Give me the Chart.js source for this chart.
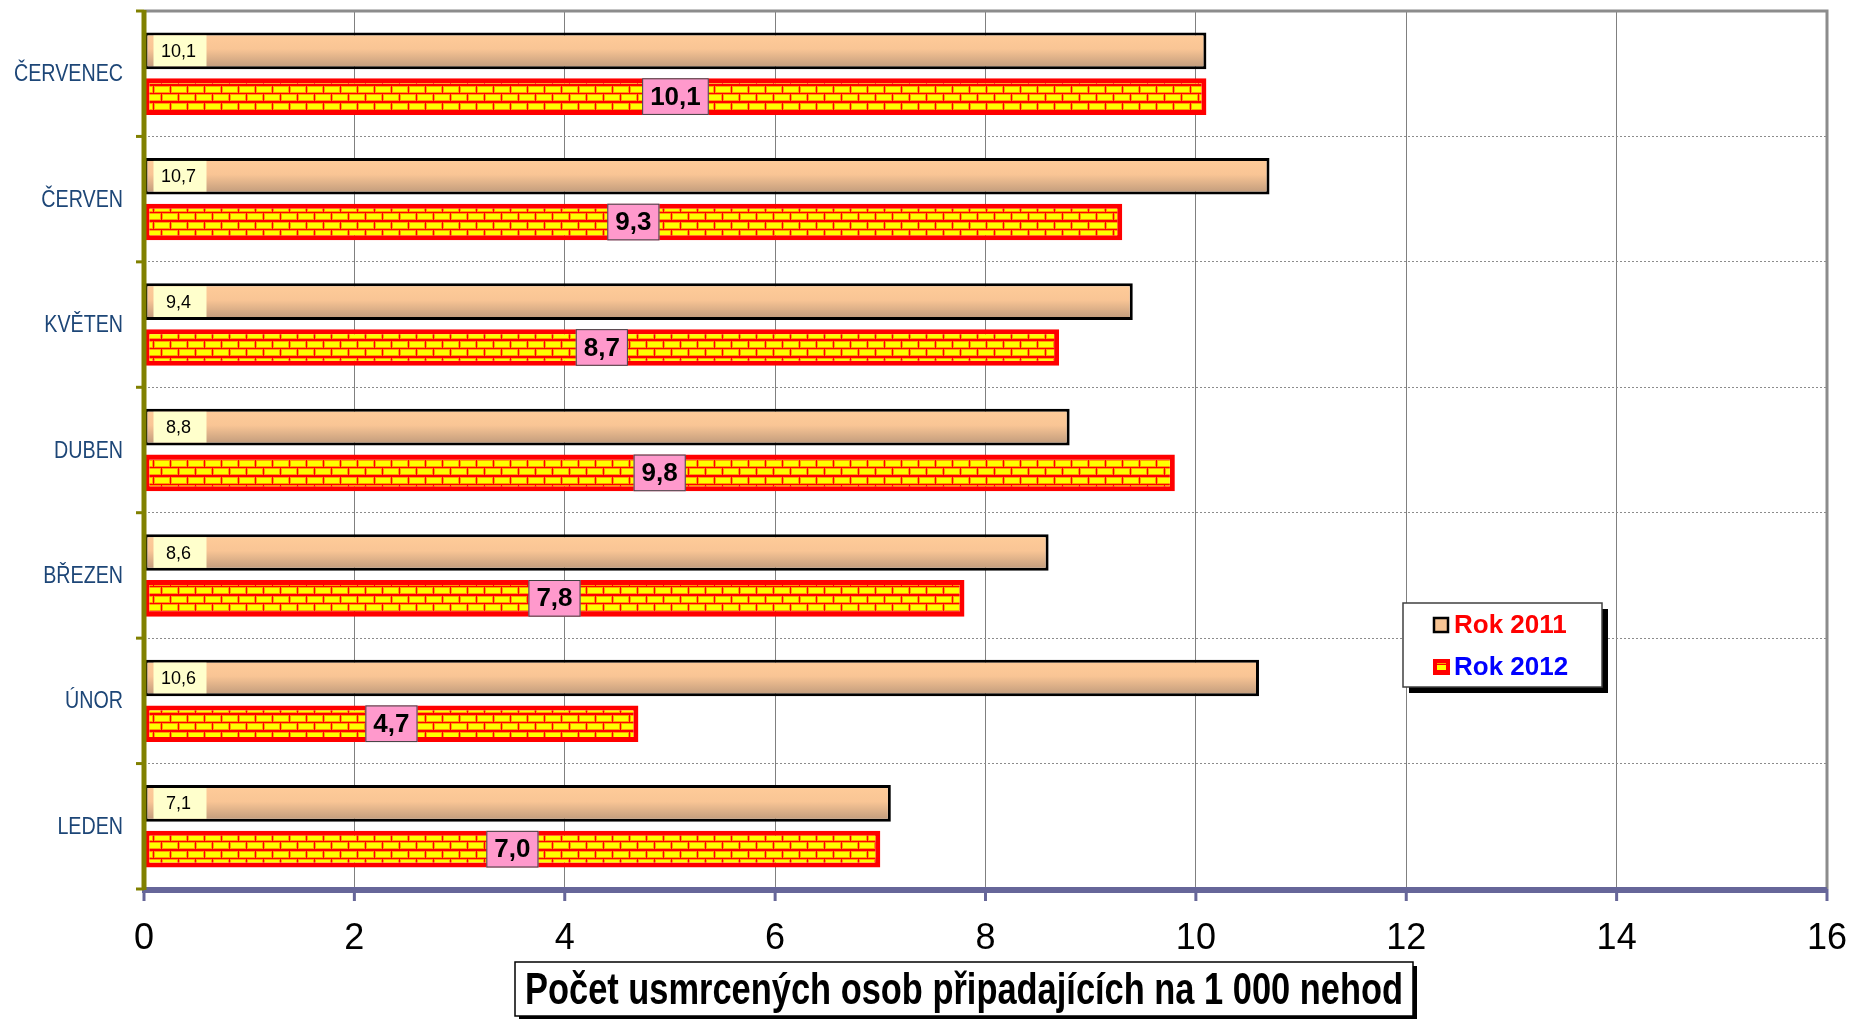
<!DOCTYPE html>
<html>
<head>
<meta charset="utf-8">
<script src="https://cdn.jsdelivr.net/npm/chart.js@4.4.1/dist/chart.umd.min.js"></script>
<style>
html, body { margin: 0; padding: 0; background: #fff; }
#wrap { width: 1851px; height: 1019px; }
</style>
</head>
<body>
<div id="wrap"><canvas id="chart" width="1851" height="1019"></canvas></div>
<script>
// data, top row first
const months = ['ČERVENEC', 'ČERVEN', 'KVĚTEN', 'DUBEN', 'BŘEZEN', 'ÚNOR', 'LEDEN'];
const values2011 = [10.1, 10.7, 9.4, 8.8, 8.6, 10.6, 7.1];
const values2012 = [10.1, 9.3, 8.7, 9.8, 7.8, 4.7, 7.0];
const seriesNames = ['Rok 2011', 'Rok 2012'];
const xTicks = [0, 2, 4, 6, 8, 10, 12, 14, 16];
const axisTitle = 'Počet usmrcených osob připadajících na 1 000 nehod';

const CAT_PCT = 0.73;
const BAR_PCT = 0.8;

function fmt(v) {
    return v.toFixed(1).replace('.', ',');
}

// red mortar, yellow bricks
function brickPattern() {
    const c = document.createElement('canvas');
    c.width = 17;
    c.height = 17;
    const g = c.getContext('2d');
    g.fillStyle = '#ff0000';
    g.fillRect(0, 0, 17, 17);
    const bricks = [[1, 1], [-8, 9], [9, 9]];
    bricks.forEach(([bx, by]) => {
        g.fillStyle = '#ffa000';
        g.fillRect(bx, by, 16, 7);
        g.fillStyle = '#ffff00';
        g.fillRect(bx + 1, by + 1, 14, 5);
    });
    return g.createPattern(c, 'repeat');
}

const ctx = document.getElementById('chart').getContext('2d');
const bricks = brickPattern();

function tanFill(context) {
    const chart = context.chart;
    const y = chart.scales.y;
    if (!y || context.dataIndex === undefined) return '#f5c594';
    const p0 = y.getPixelForValue(0);
    const p1 = y.getPixelForValue(1);
    if (!isFinite(p0) || !isFinite(p1) || p0 === p1) return '#f5c594';
    const band = Math.abs(p1 - p0);
    const slot = band * CAT_PCT / 2;
    const center = y.getPixelForValue(context.dataIndex) - slot / 2;
    const half = slot * BAR_PCT / 2;
    if (!isFinite(center)) return '#f5c594';
    const grad = chart.ctx.createLinearGradient(0, center - half, 0, center + half);
    grad.addColorStop(0, '#ffcc99');
    grad.addColorStop(0.45, '#f9c595');
    grad.addColorStop(1, '#bc987a');
    return grad;
}

const decorPlugin = {
    id: 'decor',
    afterDatasetsDraw(chart) {
        const c = chart.ctx;
        const a = chart.chartArea;
        const x = chart.scales.x;
        const y = chart.scales.y;
        c.save();
        // plot border top / right
        c.strokeStyle = '#8c8c8c';
        c.lineWidth = 3;
        c.beginPath();
        c.moveTo(a.left, a.top);
        c.lineTo(a.right, a.top);
        c.lineTo(a.right, a.bottom);
        c.stroke();
        // value axis
        c.strokeStyle = '#666699';
        c.lineWidth = 6;
        c.beginPath();
        c.moveTo(a.left - 2, a.bottom + 1);
        c.lineTo(a.right, a.bottom + 1);
        c.stroke();
        c.lineWidth = 3;
        x.ticks.forEach(t => {
            const px = x.getPixelForValue(t.value);
            c.beginPath();
            c.moveTo(px, a.bottom);
            c.lineTo(px, a.bottom + 12);
            c.stroke();
        });
        // category axis
        c.strokeStyle = '#808000';
        c.lineWidth = 5;
        c.beginPath();
        c.moveTo(a.left, a.top - 1);
        c.lineTo(a.left, a.bottom + 1);
        c.stroke();
        c.lineWidth = 3;
        for (let i = 0; i <= months.length; i++) {
            const py = y.getPixelForValue(i - 0.5);
            c.beginPath();
            c.moveTo(a.left - 8, py);
            c.lineTo(a.left, py);
            c.stroke();
        }
        // category names, slightly condensed like the original
        c.font = '24px "Liberation Sans", Arial, sans-serif';
        c.fillStyle = '#1d4677';
        c.textAlign = 'right';
        c.textBaseline = 'middle';
        y.getLabels().forEach((lab, i) => {
            c.save();
            c.translate(a.left - 21, y.getPixelForValue(i) + 1);
            c.scale(0.82, 1);
            c.fillText(lab, 0, 0);
            c.restore();
        });

        // labels 2011: small pale box at bar start
        const m0 = chart.getDatasetMeta(0);
        m0.data.forEach((el, i) => {
            const p = el.getProps(['x', 'y', 'base', 'height'], true);
            const h = p.height - 6;
            c.fillStyle = '#ffffcc';
            c.fillRect(p.base + 9, p.y - h / 2, 53, h);
            c.fillStyle = '#000';
            c.font = '18px "Liberation Sans", Arial, sans-serif';
            c.textAlign = 'center';
            c.textBaseline = 'middle';
            c.fillText(fmt(chart.data.datasets[0].data[i]), p.base + 34, p.y + 1);
        });
        // labels 2012: pink box in the middle of the bar
        const m1 = chart.getDatasetMeta(1);
        m1.data.forEach((el, i) => {
            const p = el.getProps(['x', 'y', 'base', 'height'], true);
            const txt = fmt(chart.data.datasets[1].data[i]);
            c.font = 'bold 26px "Liberation Sans", Arial, sans-serif';
            const w = c.measureText(txt).width + 16;
            const h = p.height;
            const cx = (p.x + p.base) / 2;
            c.fillStyle = '#ff99cc';
            c.fillRect(cx - w / 2, p.y - h / 2, w, h);
            c.strokeStyle = '#404040';
            c.lineWidth = 1;
            c.strokeRect(cx - w / 2 + 0.5, p.y - h / 2 + 0.5, w - 1, h - 1);
            c.fillStyle = '#000';
            c.textAlign = 'center';
            c.textBaseline = 'middle';
            c.fillText(txt, cx, p.y + 1);
        });
        c.restore();
    },
    afterDraw(chart) {
        const c = chart.ctx;
        c.save();
        // axis title box
        const bx = 515, by = 962, bw = 898, bh = 54;
        c.fillStyle = '#000';
        c.fillRect(bx + 4, by + 4, bw, bh);
        c.fillStyle = '#fff';
        c.fillRect(bx, by, bw, bh);
        c.strokeStyle = '#000';
        c.lineWidth = 1.5;
        c.strokeRect(bx, by, bw, bh);
        c.font = 'bold 45px "Liberation Sans Narrow", "Liberation Sans", Arial, sans-serif';
        const tw = c.measureText(axisTitle).width;
        const sx = 878 / tw;
        c.translate(bx + bw / 2, by + 42);
        c.scale(sx, 1);
        c.fillStyle = '#000';
        c.textAlign = 'center';
        c.textBaseline = 'alphabetic';
        c.fillText(axisTitle, 0, 0);
        c.restore();

        // legend
        c.save();
        const lx = 1403, ly = 603, lw = 199, lh = 84;
        c.fillStyle = '#000';
        c.fillRect(lx + 6, ly + 6, lw, lh);
        c.fillStyle = '#fff';
        c.fillRect(lx, ly, lw, lh);
        c.strokeStyle = '#404040';
        c.lineWidth = 1.5;
        c.strokeRect(lx, ly, lw, lh);
        const colors = ['#ff0000', '#0000ff'];
        chart.data.datasets.forEach((ds, i) => {
            const cy = ly + 22 + i * 42;
            const mx = 1434;
            if (i === 0) {
                c.fillStyle = '#f8c594';
                c.fillRect(mx, cy - 7, 14, 14);
                c.strokeStyle = '#000';
                c.lineWidth = 2.5;
                c.strokeRect(mx, cy - 7, 14, 14);
            } else {
                c.fillStyle = '#ff0000';
                c.fillRect(mx - 1, cy - 8, 17, 16);
                c.fillStyle = '#ffff00';
                c.fillRect(mx + 3, cy - 2, 9, 5);
                c.fillStyle = '#ffa000';
                c.fillRect(mx + 3, cy - 4, 9, 1);
            }
            c.fillStyle = colors[i];
            c.font = 'bold 26px "Liberation Sans", Arial, sans-serif';
            c.textAlign = 'left';
            c.textBaseline = 'middle';
            c.fillText(ds.label, 1454, cy + 1);
        });
        c.restore();
    }
};

new Chart(ctx, {
    type: 'bar',
    data: {
        labels: months,
        datasets: [{
            label: seriesNames[0],
            data: values2011,
            backgroundColor: tanFill,
            borderColor: '#000000',
            borderWidth: 3,
            borderSkipped: false,
            categoryPercentage: CAT_PCT,
            barPercentage: BAR_PCT
        }, {
            label: seriesNames[1],
            data: values2012,
            backgroundColor: bricks,
            borderColor: '#ff0000',
            borderWidth: 5,
            borderSkipped: false,
            categoryPercentage: CAT_PCT,
            barPercentage: BAR_PCT
        }]
    },
    options: {
        indexAxis: 'y',
        responsive: false,
        devicePixelRatio: 1,
        animation: false,
        layout: {
            padding: { left: 0, top: 11, right: 24, bottom: 0 }
        },
        plugins: {
            legend: { display: false },
            tooltip: { enabled: false }
        },
        scales: {
            x: {
                min: 0,
                max: 16,
                afterBuildTicks: s => { s.ticks = xTicks.map(v => ({ value: v })); },
                afterFit: s => {
                    s.height = 130;
                    s.paddingLeft = 0;
                    s.paddingRight = 0;
                },
                grid: { color: '#808080', lineWidth: 1, drawTicks: false },
                border: { display: false },
                ticks: {
                    padding: 28,
                    color: '#000',
                    font: { family: '"Liberation Sans", Arial, sans-serif', size: 36 }
                }
            },
            y: {
                afterFit: s => {
                    s.width = 144;
                    s.paddingTop = 0;
                    s.paddingBottom = 0;
                },
                grid: { color: '#8c8c8c', lineWidth: 1, drawTicks: false, offset: true },
                border: { display: false, dash: [2, 2] },
                ticks: { display: false }
            }
        }
    },
    plugins: [decorPlugin]
});
</script>
</body>
</html>
